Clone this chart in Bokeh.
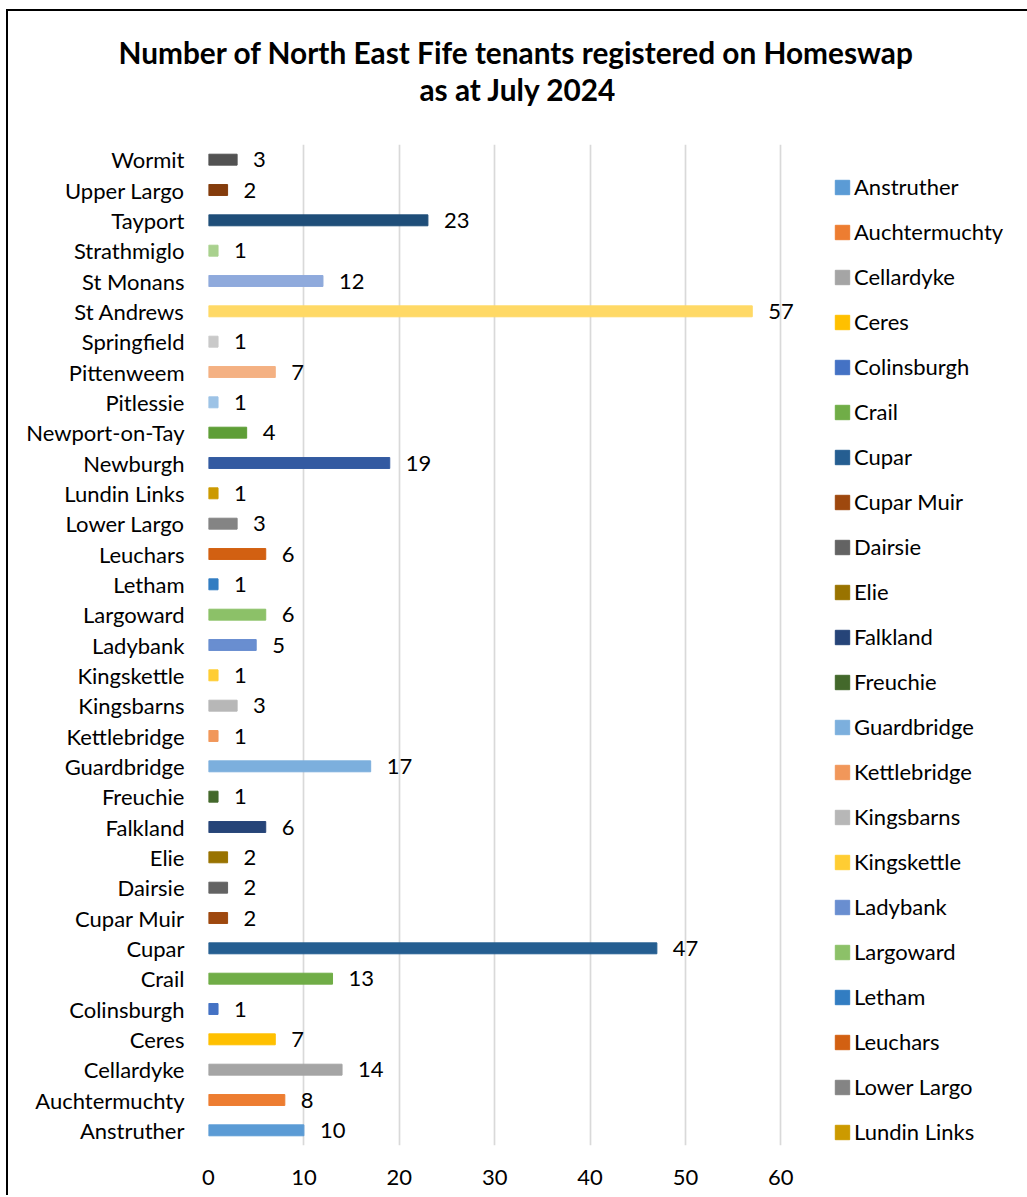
from bokeh.plotting import figure
from bokeh.models import (ColumnDataSource, Legend, LegendItem, Title, LabelSet,
                          FactorRange, FixedTicker, Range1d)
from bokeh.core.properties import value
from bokeh.embed import file_html
from bokeh.resources import INLINE

towns = ["Anstruther", "Auchtermuchty", "Cellardyke", "Ceres", "Colinsburgh", "Crail",
         "Cupar", "Cupar Muir", "Dairsie", "Elie", "Falkland", "Freuchie", "Guardbridge",
         "Kettlebridge", "Kingsbarns", "Kingskettle", "Ladybank", "Largoward", "Letham",
         "Leuchars", "Lower Largo", "Lundin Links", "Newburgh", "Newport-on-Tay",
         "Pitlessie", "Pittenweem", "Springfield", "St Andrews", "St Monans",
         "Strathmiglo", "Tayport", "Upper Largo", "Wormit"]
counts = [10, 8, 14, 7, 1, 13, 47, 2, 2, 2, 6, 1, 17, 1, 3, 1, 5, 6, 1, 6, 3, 1,
          19, 4, 1, 7, 1, 57, 12, 1, 23, 2, 3]
colors = ["#5B9BD5", "#ED7D31", "#A5A5A5", "#FFC000", "#4472C4", "#70AD47",
          "#255E91", "#9E480E", "#636363", "#997300", "#264478", "#43682B",
          "#7CAFDD", "#F1975A", "#B7B7B7", "#FFCD33", "#698ED0", "#8CC168",
          "#327DC2", "#D26012", "#848484", "#CC9A00", "#335AA1", "#5E9E37",
          "#9DC3E6", "#F4B183", "#C9C9C9", "#FFD966", "#8FAADC", "#A9D18E",
          "#1F4E79", "#843C0C", "#525252"]
x_ticks = [0, 10, 20, 30, 40, 50, 60]
title_lines = ["Number of North East Fife tenants registered on Homeswap", "as at July 2024"]
legend_shown = 22  # the legend in the source is cut off after this many entries

FONT = "Lato"
FS = "22px"
TFS = "29.8px"

src = ColumnDataSource(dict(town=towns, count=counts, color=colors,
                            label=[str(c) for c in counts]))

p = figure(y_range=FactorRange(factors=towns), x_range=Range1d(0, 63),
           frame_width=601, frame_height=1001,
           min_border_left=200, min_border_right=218, min_border_top=133, min_border_bottom=50,
           output_backend="svg", toolbar_location=None,
           styles={"margin-left": "6px", "margin-top": "9px",
                   "border-left": "2px solid black", "border-top": "2px solid black"})

r = p.hbar(y="town", right="count", left=0, height=0.36, color="color", source=src)

p.add_layout(LabelSet(x="count", y="town", text="label", source=src, x_offset=16,
                      text_baseline="middle", text_font=value(FONT),
                      text_font_size=FS, text_color="#000000"))

# axes
p.xaxis.ticker = FixedTicker(ticks=x_ticks)
p.xaxis.axis_line_color = None
p.xaxis.major_tick_line_color = None
p.xaxis.minor_tick_line_color = None
p.xaxis.major_label_standoff = 18
p.xaxis.major_label_text_font = FONT
p.xaxis.major_label_text_font_size = FS
p.xaxis.major_label_text_color = "#000000"

p.yaxis.axis_line_color = None
p.yaxis.major_tick_line_color = None
p.yaxis.major_tick_out = 0
p.yaxis.major_label_standoff = 24
p.yaxis.major_label_text_font = FONT
p.yaxis.major_label_text_font_size = FS
p.yaxis.major_label_text_color = "#000000"

p.xgrid.ticker = FixedTicker(ticks=x_ticks)
p.xgrid.grid_line_color = "#D9D9D9"
p.xgrid.grid_line_width = 1.7
p.ygrid.grid_line_color = None
p.outline_line_color = None

# legend (only first entries, as in the source)
items = [LegendItem(label=towns[i], renderers=[r], index=i) for i in range(legend_shown)]
legend = Legend(items=items, location=(24, 0), orientation="vertical",
                glyph_width=18, glyph_height=18, label_standoff=3, label_height=27,
                spacing=18, padding=0, margin=0, border_line_color=None,
                background_fill_alpha=0, label_text_font=FONT,
                label_text_font_size=FS, label_text_color="#000000")
p.add_layout(legend, "right")

# title (two lines, positioned from the frame's left edge); a blank spacer keeps
# the gap between the title and the plot area
p.add_layout(Title(text=" ", align="left", text_font=FONT, text_font_size=TFS,
                   text_font_style="bold", standoff=1), "above")
p.add_layout(Title(text=title_lines[1], align="left", text_font=FONT,
                   text_font_size=TFS, text_font_style="bold", offset=211,
                   text_color="#000000", standoff=0), "above")
p.add_layout(Title(text=title_lines[0], align="left", text_font=FONT,
                   text_font_size=TFS, text_font_style="bold", offset=-90,
                   text_color="#000000", standoff=0), "above")

open("out.html", "w").write(file_html(p, INLINE))
